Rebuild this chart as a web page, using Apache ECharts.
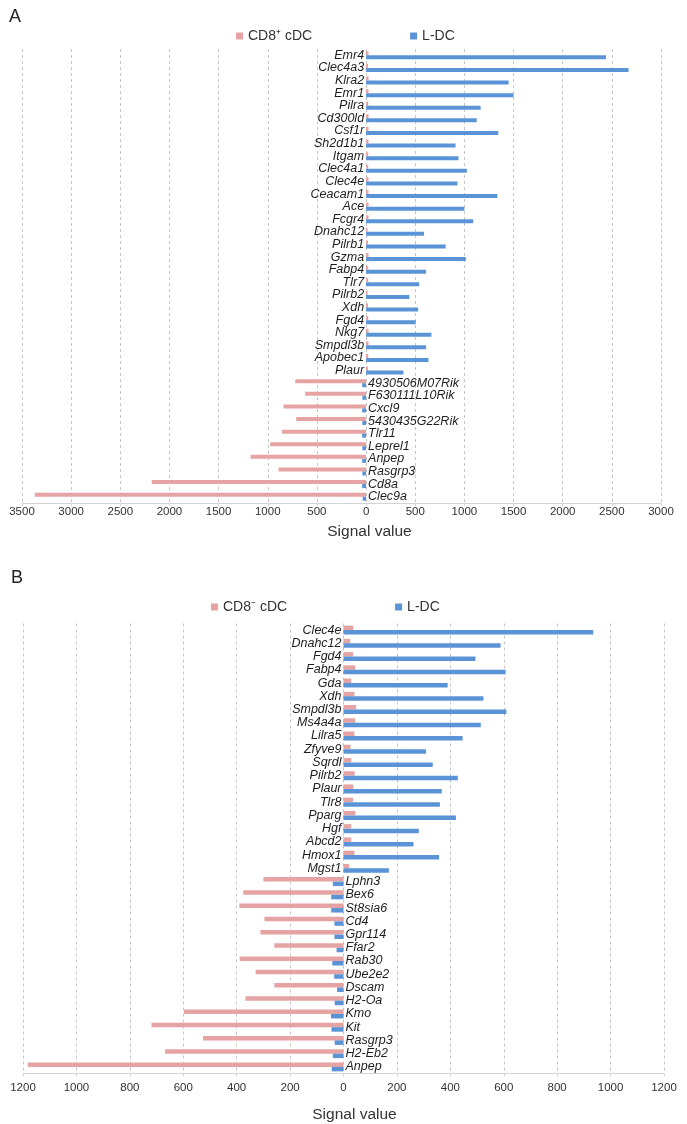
<!DOCTYPE html>
<html><head><meta charset="utf-8">
<script src="https://cdn.jsdelivr.net/npm/echarts@6/dist/echarts.min.js"></script>
<style>html,body{margin:0;padding:0;background:#fff}#c{width:687px;height:1124px}</style>
</head><body><div id="c"></div>
<script>
// ---------- Panel A ----------
const catsA = ['Emr4','Clec4a3','Klra2','Emr1','Pilra','Cd300ld','Csf1r','Sh2d1b1','Itgam','Clec4a1','Clec4e','Ceacam1','Ace','Fcgr4','Dnahc12','Pilrb1','Gzma','Fabp4','Tlr7','Pilrb2','Xdh','Fgd4','Nkg7','Smpdl3b','Apobec1','Plaur',
  '4930506M07Rik','F630111L10Rik','Cxcl9','5430435G22Rik','Tlr11','Leprel1','Anpep','Rasgrp3','Cd8a','Clec9a'];
const upperCountA = 26;
const cd8posA = [25,20,25,25,22,25,25,25,22,22,25,25,25,25,15,20,25,22,22,15,20,22,25,25,22,20,
  -720,-620,-840,-710,-855,-975,-1175,-890,-2180,-3370];
const ldcA = [2440,2670,1450,1500,1165,1125,1345,910,940,1025,930,1335,1000,1090,590,810,1015,610,540,440,530,505,665,610,635,380,
  -40,-38,-40,-38,-40,-38,-40,-38,-40,-35];
const ticksA = {min:-3500, max:3000, interval:500};

// ---------- Panel B ----------
const catsB = ['Clec4e','Dnahc12','Fgd4','Fabp4','Gda','Xdh','Smpdl3b','Ms4a4a','Lilra5','Zfyve9','Sqrdl','Pilrb2','Plaur','Tlr8','Pparg','Hgf','Abcd2','Hmox1','Mgst1',
  'Lphn3','Bex6','St8sia6','Cd4','Gpr114','Ffar2','Rab30','Ube2e2','Dscam','H2-Oa','Kmo','Kit','Rasgrp3','H2-Eb2','Anpep'];
const upperCountB = 19;
const cd8negB = [37,25,36,44,29,41,47,44,41,26,29,42,37,36,44,29,29,41,21,
  -300,-375,-390,-296,-311,-259,-389,-329,-259,-367,-597,-719,-526,-668,-1182];
const ldcB = [935,588,494,607,390,524,610,514,446,309,334,428,368,361,421,282,262,358,170,
  -40,-46,-46,-34,-34,-26,-42,-35,-24,-33,-47,-45,-33,-40,-44];
const ticksB = {min:-1200, max:1200, interval:200};

const PINK = '#e6a3a3', BLUE = '#5a94d7';
const FONT = 'Liberation Sans, Arial, sans-serif';

const gridA = {left:22, width:639, top:49, height:454};
const gridB = {left:23, width:641, top:623.5, height:450};

function zeroX(g, t) { return g.left + (0 - t.min) / (t.max - t.min) * g.width; }

function xAxisFor(grid, t, labelMargin, nameGap, namePad) {
  return {
    type:'value', gridIndex:grid, min:t.min, max:t.max, interval:t.interval,
    axisLine:{show:true, onZero:false, lineStyle:{color:'#d4d4d4', width:1}},
    axisTick:{show:true, length:3, lineStyle:{color:'#d4d4d4'}},
    axisLabel:{fontSize:11.5, color:'#333', fontFamily:FONT, margin:labelMargin,
      formatter:v => String(Math.abs(v))},
    splitLine:{show:true, lineStyle:{color:'#c6c6c6', type:[3,3], width:1}},
    name:'Signal value', nameLocation:'middle', nameGap:nameGap,
    nameTextStyle:{fontSize:15.5, color:'#333', fontFamily:FONT, padding:[0,0,0,namePad]}
  };
}
function yAxisFor(gridIdx, g, t, cats, upperCount, side) {
  const z = zeroX(g, t);
  const off = side === 'left' ? -(z - g.left) : (z - (g.left + g.width));
  return {
    type:'category', gridIndex:gridIdx, data:cats, inverse:true, position:side, offset:off,
    axisLine:{show:false, onZero:false},
    axisTick:{show:false},
    axisLabel:{interval:0, fontSize:12.5, fontStyle:'italic', color:'#1e1e1e', fontFamily:FONT, margin:2,
      formatter:(v, i) => (side === 'left' ? (i < upperCount ? v : '') : (i >= upperCount ? v : ''))},
    splitLine:{show:false}
  };
}

const chart = echarts.init(document.getElementById('c'), null, {renderer:'canvas'});
chart.setOption({
  animation:false,
  backgroundColor:'#fff',
  textStyle:{fontFamily:FONT},
  graphic:[
    {type:'text', left:9, top:8, style:{text:'A', fontSize:18, fill:'#222', fontFamily:FONT}},
    {type:'text', left:11, top:569, style:{text:'B', fontSize:18, fill:'#222', fontFamily:FONT}}
  ],
  legend:[
    {data:['CD8⁺ cDC','L-DC'], left:231, top:24, itemWidth:7, itemHeight:7, icon:'rect', itemGap:98,
      textStyle:{fontSize:14, color:'#333', fontFamily:FONT}, selectedMode:false},
    {data:['CD8⁻ cDC','L-DC'], left:206, top:595, itemWidth:7, itemHeight:7, icon:'rect', itemGap:108,
      textStyle:{fontSize:14, color:'#333', fontFamily:FONT}, selectedMode:false}
  ],
  grid:[
    Object.assign({outerBoundsMode:'none'}, gridA),
    Object.assign({outerBoundsMode:'none'}, gridB)
  ],
  xAxis:[
    xAxisFor(0, ticksA, 2.5, 21, 56),
    xAxisFor(1, ticksB, 8.5, 33, 22)
  ],
  yAxis:[
    yAxisFor(0, gridA, ticksA, catsA, upperCountA, 'left'),
    yAxisFor(0, gridA, ticksA, catsA, upperCountA, 'right'),
    yAxisFor(1, gridB, ticksB, catsB, upperCountB, 'left'),
    yAxisFor(1, gridB, ticksB, catsB, upperCountB, 'right')
  ],
  series:[
    {name:'CD8⁺ cDC', type:'bar', xAxisIndex:0, yAxisIndex:0, data:cd8posA, barWidth:4, barGap:'0%', itemStyle:{color:PINK}},
    {name:'L-DC', type:'bar', xAxisIndex:0, yAxisIndex:0, data:ldcA, barWidth:4, barGap:'0%', itemStyle:{color:BLUE}},
    {name:'CD8⁻ cDC', type:'bar', xAxisIndex:1, yAxisIndex:2, data:cd8negB, barWidth:4.5, barGap:'0%', itemStyle:{color:PINK}},
    {name:'L-DC', type:'bar', xAxisIndex:1, yAxisIndex:2, data:ldcB, barWidth:4.5, barGap:'0%', itemStyle:{color:BLUE}}
  ]
});
</script></body></html>
